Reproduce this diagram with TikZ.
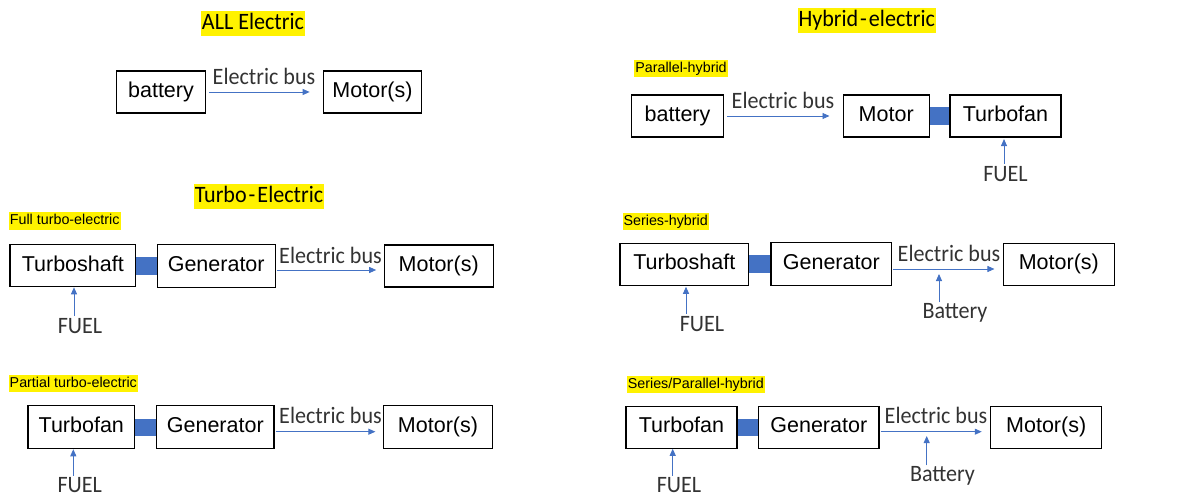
\documentclass[tikz,border=0pt]{standalone}
\usepackage{fontspec}
\setmainfont{Liberation Sans}
\newfontfamily\labelfont[FakeStretch=0.94]{Carlito}
\usetikzlibrary{arrows.meta, calc}
\definecolor{linkblue}{RGB}{68,114,196}

\begin{document}
\begin{tikzpicture}[x=1pt, y=-1pt,
  unitbox/.style={draw, line width=1.1pt, inner sep=0pt, minimum height=42pt, text height=15.5pt, text depth=4.5pt, font=\fontsize{21.5}{25}\selectfont},
  flow/.style={-{Triangle[length=7pt,width=6pt]}, draw=linkblue, line width=0.9pt},
  shaft/.style={fill=linkblue},
  title/.style={fill=yellow, inner xsep=1pt, inner ysep=1.5pt, text height=17pt, text depth=5pt, font=\labelfont\fontsize{23.5}{27}\selectfont},
  subtitle/.style={fill=yellow, inner xsep=1pt, inner ysep=1.5pt, text height=11pt, text depth=3.5pt, font=\fontsize{14.3}{16}\selectfont},
  lbl/.style={inner sep=1pt, font=\labelfont\fontsize{23.5}{27}\selectfont, text=black!80}]
\useasboundingbox (0,0) rectangle (1186,497);

% ALL Electric
\node[title] (allel) at (253,23.5) {ALL Electric};
\node[unitbox, minimum width=89pt] (bat1) at (161,92) {battery};
\node[unitbox, minimum width=98pt] (mot1) at (372.5,92) {Motor(s)};
\node[lbl] (bus1) at (264,76) {Electric bus};
\draw[flow, shorten <=2.7pt, shorten >=13.3pt] (bat1.east) -- (mot1.west);

% Turbo-Electric
\node[title] (turboel) at (259,196.7) {Turbo\kern2pt-\kern2pt Electric};

% full turbo-electric
\node[subtitle] (fullte) at (64.7,221) {Full turbo-electric};
\node[unitbox, minimum width=125.7pt] (tshaft1) at (72.8,265.8) {Turboshaft};
\node[unitbox, minimum width=117.7pt, minimum height=43pt] (gen1) at (216.2,265.8) {Generator};
\node[unitbox, minimum width=108.7pt] (mot2) at (438.7,266) {Motor(s)};
\node[lbl] (bus2) at (330.5,255) {Electric bus};
\node[lbl] (fuel1) at (80,326) {FUEL};
\fill[shaft] ($(tshaft1.east)+(0,-9)$) rectangle ($(gen1.west)+(0,9)$);
\draw[flow, shorten <=1pt, shorten >=7.6pt] ($(gen1.east)+(0,4.2)$) -- ($(mot2.west)+(0,4)$);
\draw[flow, shorten <=1pt] (fuel1.north -| 74,0) -- (74,287.3);

% partial turbo-electric
\node[subtitle] (partte) at (73.3,383.3) {Partial turbo-electric};
\node[unitbox, minimum width=106.7pt, minimum height=43pt] (tfan1) at (81.3,427.2) {Turbofan};
\node[unitbox, minimum width=117.3pt, minimum height=43pt] (gen2) at (215.3,427.2) {Generator};
\node[unitbox, minimum width=108.7pt, minimum height=43pt] (mot3) at (438,427.2) {Motor(s)};
\node[lbl] (bus3) at (330.5,415.7) {Electric bus};
\node[lbl] (fuel2) at (79.7,485.5) {FUEL};
\fill[shaft] ($(tfan1.east)+(0,-8.5)$) rectangle ($(gen2.west)+(0,8.5)$);
\draw[flow, shorten <=1pt, shorten >=7.7pt] ($(gen2.east)+(0,4.5)$) -- ($(mot3.west)+(0,4.5)$);
\draw[flow, shorten <=1pt] (fuel2.north -| tfan1.south) ++(-8,0) -- ($(tfan1.south)+(-8,0)$);

% Hybrid-electric
\node[title] (hybel) at (866.7,20.8) {Hybrid\kern2pt-\kern2pt electric};

% parallel-hybrid
\node[subtitle] (parhyb) at (681,68.3) {Parallel-hybrid};
\node[unitbox, minimum width=91.7pt] (bat2) at (677.5,116) {battery};
\node[unitbox, minimum width=85.7pt] (mot4) at (886.2,116) {Motor};
\node[unitbox, minimum width=111pt] (tfan2) at (1005.5,116) {Turbofan};
\node[lbl] (bus4) at (783,100.5) {Electric bus};
\node[lbl] (fuel3) at (1005.5,174) {FUEL};
\fill[shaft] ($(mot4.east)+(0,-9)$) rectangle ($(tfan2.west)+(0,9)$);
\draw[flow, shorten <=3.4pt, shorten >=13.3pt] (bat2.east) -- (mot4.west);
\draw[flow, shorten <=1pt, shorten >=1.5pt] ($(fuel3.north)+(-1.5,0)$) -- ($(tfan2.south)+(-1.5,0)$);

% series-hybrid
\node[subtitle] (serhyb) at (665.7,221.7) {Series-hybrid};
\node[unitbox, minimum width=128.7pt] (tshaft2) at (684.3,264.2) {Turboshaft};
\node[unitbox, minimum width=120.7pt, minimum height=43pt] (gen3) at (831.3,264.2) {Generator};
\node[unitbox, minimum width=111pt] (mot5) at (1058.8,264.2) {Motor(s)};
\node[lbl] (bus5) at (949,253.5) {Electric bus};
\node[lbl] (fuel4) at (702,324) {FUEL};
\node[lbl] (batt1) at (955,313) {Battery};
\coordinate (tap1) at (939,274);
\fill[shaft] ($(tshaft2.east)+(0,-9)$) rectangle ($(gen3.west)+(0,9)$);
\draw[flow, shorten <=0.6pt, shorten >=8.3pt] ($(gen3.east)+(0,4.8)$) -- ($(mot5.west)+(0,4.8)$);
\draw[flow] (batt1.north -| tap1) -- (tap1);
\draw[flow, shorten <=1pt, shorten >=1pt] (fuel4.north -| 686,0) -- (tshaft2.south -| 686,0);

% series/parallel-hybrid
\node[subtitle] (serparhyb) at (695.8,384.7) {Series/Parallel-hybrid};
\node[unitbox, minimum width=111pt] (tfan3) at (681.5,427.2) {Turbofan};
\node[unitbox, minimum width=120.3pt] (gen4) at (818.8,427.2) {Generator};
\node[unitbox, minimum width=111pt] (mot6) at (1046.2,427.2) {Motor(s)};
\node[lbl] (bus6) at (936,415.3) {Electric bus};
\node[lbl] (fuel5) at (679,485.5) {FUEL};
\node[lbl] (batt2) at (942.5,476) {Battery};
\coordinate (tap2) at (926.7,436);
\fill[shaft] ($(tfan3.east)+(0,-8.5)$) rectangle ($(gen4.west)+(0,8.5)$);
\draw[flow, shorten <=1pt, shorten >=8.4pt] ($(gen4.east)+(0,4.5)$) -- ($(mot6.west)+(0,4.5)$);
\draw[flow] (batt2.north -| tap2) -- (tap2);
\draw[flow, shorten <=1pt] (fuel5.north -| 672.7,0) -- (tfan3.south -| 672.7,0);
\end{tikzpicture}
\end{document}
